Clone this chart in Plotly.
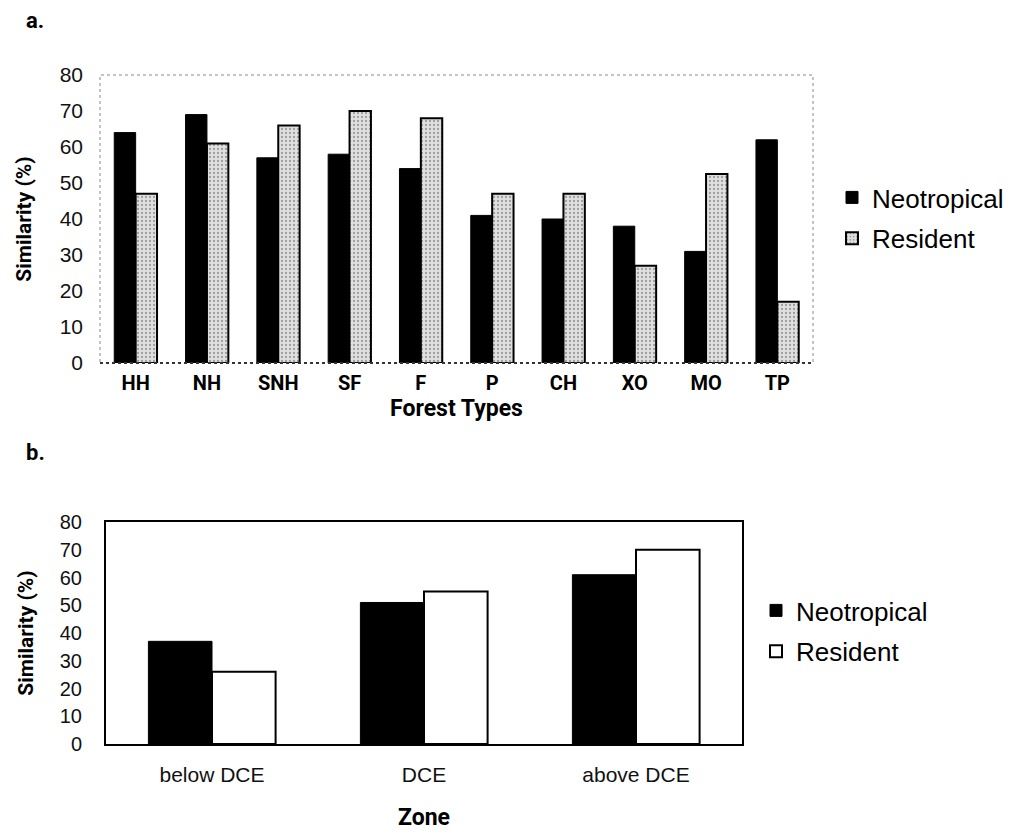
import plotly.graph_objects as go

# ---- data ----
forest_types = ["HH", "NH", "SNH", "SF", "F", "P", "CH", "XO", "MO", "TP"]
forest_neotropical = [64, 69, 57, 58, 54, 41, 40, 38, 31, 62]
forest_resident = [47, 61, 66, 70, 68, 47, 47, 27, 52.5, 17]

zones = ["below DCE", "DCE", "above DCE"]
zone_neotropical = [37, 51, 61]
zone_resident = [26, 55, 70]

y_ticks = [0, 10, 20, 30, 40, 50, 60, 70, 80]

# ---- styling ----
OFF = 8  # page body margin
W, H = 1021 - OFF, 835 - OFF
COND = "Roboto, Liberation Sans Narrow, DejaVu Sans Condensed, sans-serif"
SANS = "Liberation Sans, Arial, Helvetica, sans-serif"

def px_x(p):
    return (p - OFF) / W

def px_y(p):
    return (H - (p - OFF)) / H

fig = go.Figure()

# Top chart (a)
fig.add_trace(go.Bar(
    x=forest_types, y=forest_neotropical, name="Neotropical",
    marker=dict(color="black", line=dict(color="black", width=1)),
    xaxis="x", yaxis="y", legend="legend", legendgroup="a1",
))
fig.add_trace(go.Bar(
    x=forest_types, y=forest_resident, name="Resident",
    marker=dict(color="#e0e0e0", line=dict(color="black", width=2),
                pattern=dict(shape=".", fgcolor="#5a5a5a", bgcolor="#e0e0e0",
                             size=4, solidity=0.25)),
    xaxis="x", yaxis="y", legend="legend", legendgroup="a2",
))

# Bottom chart (b)
fig.add_trace(go.Bar(
    x=zones, y=zone_neotropical, name="Neotropical",
    marker=dict(color="black", line=dict(color="black", width=1)),
    xaxis="x2", yaxis="y2", legend="legend2", legendgroup="b1",
))
fig.add_trace(go.Bar(
    x=zones, y=zone_resident, name="Resident",
    marker=dict(color="white", line=dict(color="black", width=2)),
    xaxis="x2", yaxis="y2", legend="legend2", legendgroup="b2",
))

top_x = [px_x(100), px_x(813)]
top_y = [px_y(363), px_y(75)]
bot_x = [px_x(106), px_x(742)]
bot_y = [px_y(744), px_y(522)]

fig.update_layout(
    width=W, height=H,
    margin=dict(l=0, r=0, t=0, b=0, autoexpand=False),
    paper_bgcolor="white", plot_bgcolor="white",
    barmode="group", bargap=0.4, bargroupgap=0,
    xaxis=dict(
        domain=top_x, anchor="y", showgrid=False, zeroline=False, automargin=False,
        showline=False, ticks="",
        tickfont=dict(family=COND, size=20, color="black", weight="bold"),
        ticklabelstandoff=6,
        title=dict(text="Forest Types", standoff=2,
                   font=dict(family=COND, size=23, color="black", weight="bold")),
    ),
    yaxis=dict(
        domain=top_y, anchor="x", range=[0, 80], tickvals=y_ticks, automargin=False,
        showgrid=False, zeroline=False, showline=False, ticks="",
        tickfont=dict(family=SANS, size=21, color="#111"),
        ticklabelstandoff=16,
        title=dict(text="Similarity (%)", standoff=22,
                   font=dict(family=COND, size=21, color="black", weight="bold")),
    ),
    xaxis2=dict(
        domain=bot_x, anchor="y2", showgrid=False, zeroline=False, automargin=False,
        showline=True, linecolor="black", linewidth=2, mirror=True, ticks="",
        tickfont=dict(family=SANS, size=21, color="#111"),
        ticklabelstandoff=11,
        title=dict(text="Zone", standoff=24,
                   font=dict(family=COND, size=23, color="black", weight="bold")),
    ),
    yaxis2=dict(
        domain=bot_y, anchor="x2", range=[0, 80], tickvals=y_ticks, automargin=False,
        showgrid=False, zeroline=False,
        showline=True, linecolor="black", linewidth=2, mirror=True, ticks="",
        tickfont=dict(family=SANS, size=20, color="#111"),
        ticklabelstandoff=18,
        title=dict(text="Similarity (%)", standoff=20,
                   font=dict(family=COND, size=21, color="black", weight="bold")),
    ),
    legend=dict(
        x=px_x(832), y=px_y(218), xanchor="left", yanchor="middle",
        font=dict(family=SANS, size=26, color="black"),
        tracegroupgap=4, bgcolor="rgba(0,0,0,0)",
    ),
    legend2=dict(
        x=px_x(756), y=px_y(631), xanchor="left", yanchor="middle",
        font=dict(family=SANS, size=26, color="black"),
        tracegroupgap=4, bgcolor="rgba(0,0,0,0)",
    ),
    shapes=[
        dict(type="rect", xref="x domain", yref="y domain", x0=0, x1=1, y0=0, y1=1,
             line=dict(color="#8a8a8a", width=1, dash="dot"), layer="below"),
        dict(type="line", xref="x domain", yref="y domain", x0=0, x1=1, y0=0, y1=0,
             line=dict(color="#333", width=2, dash="dot"), layer="above"),
    ],
    annotations=[
        dict(text="a.", xref="paper", yref="paper", x=px_x(24), y=px_y(20),
             xanchor="left", yanchor="middle", showarrow=False,
             font=dict(family=COND, size=22, color="black", weight="bold")),
        dict(text="b.", xref="paper", yref="paper", x=px_x(24), y=px_y(452),
             xanchor="left", yanchor="middle", showarrow=False,
             font=dict(family=COND, size=22, color="black", weight="bold")),
    ],
)

fig.write_html("out.html")
